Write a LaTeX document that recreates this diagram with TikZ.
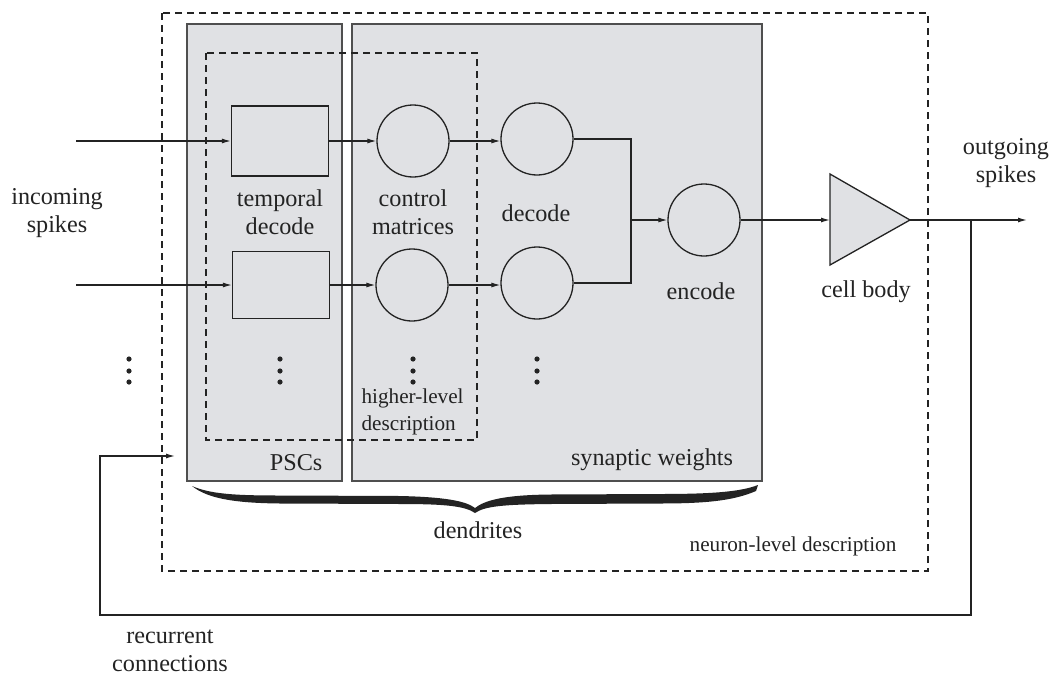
\documentclass[tikz,border=0pt]{standalone}
\usepackage{fontspec}
\setmainfont{Liberation Serif}
\usetikzlibrary{arrows.meta}
\definecolor{boxgray}{RGB}{224,225,228}
\definecolor{ink}{RGB}{35,35,35}
\newcommand\dgMain{\fontsize{24.2}{28}\selectfont}
\newcommand\dgSmall{\fontsize{21.2}{27}\selectfont}
\begin{document}
\begin{tikzpicture}[x=1pt,y=-1pt,line width=1.2pt,color=ink,
  every node/.style={font=\dgMain,inner sep=0pt},
  dashbox/.style={draw=ink,line width=1.1pt,dash pattern=on 7pt off 5pt},
  graybox/.style={draw=ink!80,fill=boxgray,line width=1.3pt},
  rbox/.style={draw=ink,rectangle,minimum width=97pt,minimum height=70pt,line width=1.3pt},
  cbox/.style={draw=ink,circle,minimum size=72pt,line width=1.3pt},
  arr/.style={-{Latex[length=9pt,width=5pt]}},
  lbl/.style={align=center},
  small/.style={font=\dgSmall}]
\useasboundingbox (0,0) rectangle (1051,677);
% containers
\draw[dashbox] (162,13) rectangle (928,571);
\draw[graybox] (187,24) rectangle (342,481);
\draw[graybox] (352,24) rectangle (762,481);
\draw[dashbox] (206,53) rectangle (477,440);
% processing nodes
\node[rbox] (td1) at (280,141) {};
\node[rbox,minimum height=67pt] (td2) at (281,285) {};
\node[cbox] (cm1) at (413,141) {};
\node[cbox] (cm2) at (412,285) {};
\node[cbox] (dc1) at (537,139) {};
\node[cbox] (dc2) at (537,283) {};
\node[cbox] (enc) at (704,220) {};
% cell body
\coordinate (cbL) at (830,220);
\coordinate (cbA) at (910,220);
\draw[draw=ink,fill=boxgray,line width=1.3pt,line join=miter] (830,174) -- (cbA) -- (830,265) -- cycle;
% coordinates for free ends
\coordinate (in1) at (76,141);
\coordinate (in2) at (76,285);
\coordinate (j) at (631,220);
\coordinate (out) at (1027,220);
\coordinate (br) at (971,220);
\coordinate (rin) at (175,456);
% connectors
\draw[arr] (in1) -- (td1.west);
\draw[arr] (in2) -- (in2 -| td2.west);
\draw[arr] (td1.east) -- (td1.east -| cm1.west);
\draw[arr] (td2.east) -- (td2.east -| cm2.west);
\draw[arr] (cm1.east) -- (cm1.east -| dc1.west);
\draw[arr] (cm2.east) -- (cm2.east -| dc2.west);
\draw (dc1.east) -| (j |- dc2.east) -- (dc2.east);
\draw[arr] (j) -- (enc.west);
\draw[arr] (enc.east) -- (cbL);
\draw[arr] (cbA) -- (out);
\draw[arr] (br) -- (971,615) -| (100,456) -- (rin);
% dots
\foreach \x in {129,280,413,537}
  \foreach \y in {359,371,382}
    \fill (\x,\y) circle (2.6pt);
% brace
\fill (192,486) .. controls (210,494) and (235,495.5) .. (280,495.5) -- (400,496)
  .. controls (445,497) and (466,501) .. (475,508)
  .. controls (485,500) and (505,495) .. (550,494.5) -- (660,494)
  .. controls (710,494) and (740,492) .. (758,485)
  -- (756,491)
  .. controls (735,500) and (710,503.5) .. (660,503.5) -- (550,504)
  .. controls (505,504.5) and (485,506) .. (475,513)
  .. controls (465,506) and (445,504) .. (400,504) -- (280,503.5)
  .. controls (232,503) and (207,498) .. (192,486) -- cycle;
% labels
\node[lbl] (tIn) at (57,213) {incoming\\spikes};
\node[lbl] (tTd) at (280,212) {temporal\\decode};
\node[lbl] (tCm) at (413,212) {control\\matrices};
\node[lbl] (tDc) at (536,213) {decode};
\node[lbl] (tEn) at (701,291) {encode};
\node[lbl] (tCb) at (866,292) {cell body};
\node[lbl] (tOut) at (1006,163) {outgoing\\spikes};
\node[small,align=left,anchor=west] (tHl) at (361,412) {higher-level\\description};
\node[anchor=east] (tPsc) at (323,463) {PSCs};
\node (tSw) at (652,460) {synaptic weights};
\node (tDen) at (478,530) {dendrites};
\node[small] (tNl) at (793,546) {neuron-level description};
\node[lbl] (tRec) at (170,651) {recurrent\\connections};
\end{tikzpicture}
\end{document}
